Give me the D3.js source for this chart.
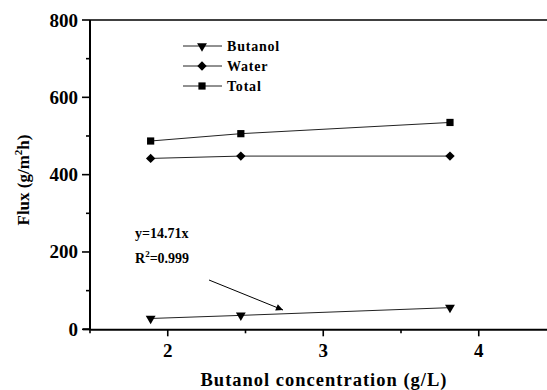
<!DOCTYPE html>
<html>
<head>
<meta charset="utf-8">
<script src="https://cdn.jsdelivr.net/npm/d3@7"></script>
<style>
  html, body { margin: 0; padding: 0; background: #fff; }
  svg { display: block; }
  text { font-family: "Liberation Serif", "Times New Roman", serif; font-weight: bold; fill: #000; }
</style>
</head>
<body>
<svg id="chart" width="547" height="390"></svg>
<script>
// Butanol feed concentration (g/L) and permeate fluxes (g/m²h)
const concentration = [1.89, 2.47, 3.815];
const butanolFlux = [28, 36, 56];
const waterFlux = [442, 448, 448];
const totalFlux = [487, 506, 535];
const seriesNames = ["Butanol", "Water", "Total"];
const xTicks = [2, 3, 4];
const yTicks = [0, 200, 400, 600, 800];
const fitLines = ["y=14.71x", "R²=0.999"];

const svg = d3.select("#chart");
const plotLeft = 90, plotTop = 20, plotBottom = 329.3;
const x = d3.scaleLinear().domain([1.5, 4.5]).range([plotLeft, plotLeft + 3 * 155.5]);
const y = d3.scaleLinear().domain([0, 800]).range([plotBottom, plotTop]);

// top frame line
svg.append("line")
  .attr("x1", plotLeft).attr("x2", 560).attr("y1", y(800)).attr("y2", y(800))
  .attr("stroke", "#000").attr("stroke-width", 1.6);

// x axis
const xAxis = svg.append("g").attr("transform", `translate(0,${plotBottom})`);
xAxis.call(d3.axisBottom(x).tickValues(d3.range(1.5, 4.51, 0.5)).tickSize(0).tickFormat(""));
xAxis.select(".domain").attr("stroke-width", 2);
xAxis.append("line").attr("x1", 83).attr("x2", plotLeft).attr("stroke", "#000").attr("stroke-width", 2);
d3.range(1.5, 4.51, 0.5).forEach(v => {
  const major = xTicks.includes(v);
  xAxis.append("line").attr("x1", x(v)).attr("x2", x(v)).attr("y1", 0).attr("y2", major ? 7 : 4)
    .attr("stroke", "#000").attr("stroke-width", 1.6);
});
xAxis.selectAll(".lbl").data(xTicks).enter().append("text")
  .attr("x", d => x(d)).attr("y", 28).attr("text-anchor", "middle")
  .style("font-size", "19px").text(d => d);

// y axis
const yAxis = svg.append("g").attr("transform", `translate(${plotLeft},0)`);
yAxis.append("line").attr("y1", plotTop).attr("y2", plotBottom + 1).attr("stroke", "#000").attr("stroke-width", 2);
d3.range(0, 801, 100).forEach(v => {
  const major = yTicks.includes(v);
  yAxis.append("line").attr("x1", major ? -8 : -4).attr("x2", 0).attr("y1", y(v)).attr("y2", y(v))
    .attr("stroke", "#000").attr("stroke-width", 1.6);
});
yAxis.selectAll(".lbl").data(yTicks).enter().append("text")
  .attr("x", -12).attr("y", d => y(d) + 6.5).attr("text-anchor", "end")
  .style("font-size", "19px").text(d => d);

// axis titles
svg.append("text").attr("x", 324).attr("y", 386).attr("text-anchor", "middle")
  .style("font-size", "18.5px").style("letter-spacing", "1px").text("Butanol concentration (g/L)");
const yt = svg.append("text").attr("transform", `translate(29,180) rotate(-90)`)
  .attr("text-anchor", "middle").style("font-size", "17px");
yt.append("tspan").text("Flux (g/m");
yt.append("tspan").attr("dy", -7).style("font-size", "11px").text("2");
yt.append("tspan").attr("dy", 7).text("h)");

// symbols: down triangle, diamond (rotated square), square
const symbols = [d3.symbolTriangle, d3.symbolSquare, d3.symbolSquare];
const symSizes = [42, 44, 52];
const symRot = [180, 45, 0];
const allSeries = [butanolFlux, waterFlux, totalFlux];

const line = d3.line().x(d => x(d[0])).y(d => y(d[1]));
allSeries.forEach((vals, i) => {
  const pts = concentration.map((c, j) => [c, vals[j]]);
  svg.append("path").datum(pts).attr("d", line)
    .attr("fill", "none").attr("stroke", "#222").attr("stroke-width", 1);
  svg.selectAll(null).data(pts).enter().append("path")
    .attr("d", d3.symbol().type(symbols[i]).size(symSizes[i]))
    .attr("transform", d => `translate(${x(d[0])},${y(d[1])}) rotate(${symRot[i]})`)
    .attr("fill", "#000");
});

// legend
const legendY = [46, 66, 86];
seriesNames.forEach((name, i) => {
  const g = svg.append("g").attr("transform", `translate(0,${legendY[i]})`);
  g.append("line").attr("x1", 183).attr("x2", 222).attr("stroke", "#222").attr("stroke-width", 1);
  g.append("path").attr("d", d3.symbol().type(symbols[i]).size(symSizes[i]))
    .attr("transform", `translate(202,0) rotate(${symRot[i]})`).attr("fill", "#000");
  g.append("text").attr("x", 227).attr("y", 5).style("font-size", "14px")
    .style("letter-spacing", "0.8px").text(name);
});

// regression annotation with arrow
svg.append("defs").append("marker").attr("id", "arrow")
  .attr("viewBox", "0 0 10 10").attr("refX", 10).attr("refY", 5)
  .attr("markerWidth", 9).attr("markerHeight", 7).attr("markerUnits", "userSpaceOnUse")
  .attr("orient", "auto")
  .append("path").attr("d", "M0,0 L10,5 L0,10 Z").attr("fill", "#000");
svg.append("text").attr("x", 135).attr("y", 238).style("font-size", "14px").text(fitLines[0]);
const r2 = svg.append("text").attr("x", 135).attr("y", 263).style("font-size", "14px");
r2.append("tspan").text("R");
r2.append("tspan").attr("dy", -6).style("font-size", "9px").text("2");
r2.append("tspan").attr("dy", 6).text("=0.999");
svg.append("line").attr("x1", 209).attr("y1", 280).attr("x2", 283).attr("y2", 310)
  .attr("stroke", "#000").attr("stroke-width", 1).attr("marker-end", "url(#arrow)");
</script>
</body>
</html>
